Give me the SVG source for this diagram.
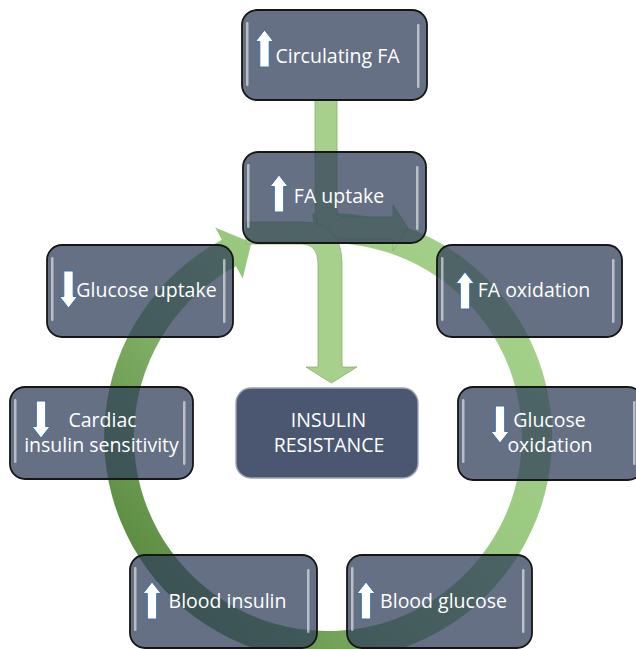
<svg xmlns="http://www.w3.org/2000/svg" xmlns:xlink="http://www.w3.org/1999/xlink" width="636" height="649" viewBox="0 0 636 649">
<style>
.box{fill:#32405b;fill-opacity:0.75;stroke:#161616;stroke-width:1.8}
.core{fill:#4b5771;stroke:#9aa3b5;stroke-width:1.4}
.hl{fill:#ffffff;fill-opacity:0.55}
.t{font-family:"Open Sans","Liberation Sans",Arial,sans-serif;font-size:19.5px;fill:#ffffff;text-anchor:middle}
.arr{fill:#ffffff;stroke:#3b6fa8;stroke-width:1}
.bent{fill:#a8d08d;stroke:#86b06f;stroke-width:0.8}
</style>
<defs>
<linearGradient id="ringGrad" gradientUnits="userSpaceOnUse" x1="520" y1="230" x2="120" y2="560">
<stop offset="0" stop-color="#a8d38e"/>
<stop offset="0.45" stop-color="#98c87e"/>
<stop offset="1" stop-color="#5a8a40"/>
</linearGradient>
<path id="up" d="M0,0 L9,11.5 L4.7,11.5 L4.7,37 L-4.7,37 L-4.7,11.5 L-9,11.5 Z"/>
</defs>

<g id="connectors">
<path id="ring" fill="url(#ringGrad)" d="M312.4,213.5 A224,224 0 1 1 221.8,239.8 L215.2,227.4 L251.4,242.5 L242.7,278.5 L236.0,266.2 A194,194 0 1 0 314.5,243.5 Z"/>
<path id="bent-fa" class="bent" d="M315,100 L315,207 Q315,239 345,239 L393,239 L393,251 L408,228 L393,205 L393,217 L345,217 Q337,217 337,209 L337,100 Z"/>
<path id="bent-ir" class="bent" d="M246,222 L302,222 Q342,222 342,264 L342,367 L357,367 L331.5,383 L306,367 L318,367 L318,264 Q318,244 302,244 L246,244 Z"/>
</g>

<g id="node-circulating-fa">
<rect class="box" x="242" y="10" width="185" height="90" rx="15"/>
<rect class="hl" x="246" y="22" width="2.5" height="64" rx="1.2"/>
<rect class="hl" x="417" y="24" width="2.5" height="64" rx="1.2"/>
<use xlink:href="#up" class="arr" x="264.5" y="30"/>
<text class="t" x="337.5" y="63">Circulating FA</text>
</g>

<g id="node-fa-uptake">
<rect class="box" x="243" y="152" width="183" height="91" rx="15"/>
<rect class="hl" x="247" y="164" width="2.5" height="64" rx="1.2"/>
<rect class="hl" x="416" y="166" width="2.5" height="64" rx="1.2"/>
<use xlink:href="#up" class="arr" x="279" y="175"/>
<text class="t" x="339" y="203">FA uptake</text>
</g>

<g id="node-glucose-uptake">
<rect class="box" x="47" y="245" width="186" height="92" rx="15"/>
<rect class="hl" x="51" y="257" width="2.5" height="64" rx="1.2"/>
<rect class="hl" x="223" y="259" width="2.5" height="64" rx="1.2"/>
<use xlink:href="#up" class="arr" transform="translate(68.5,308) scale(1,-1)"/>
<text class="t" x="146.5" y="297">Glucose uptake</text>
</g>

<g id="node-fa-oxidation">
<rect class="box" x="437" y="245" width="185" height="92" rx="15"/>
<rect class="hl" x="441" y="257" width="2.5" height="64" rx="1.2"/>
<rect class="hl" x="612" y="259" width="2.5" height="64" rx="1.2"/>
<use xlink:href="#up" class="arr" x="465" y="272"/>
<text class="t" x="534" y="297">FA oxidation</text>
</g>

<g id="node-cardiac-insulin-sensitivity">
<rect class="box" x="10" y="387" width="183" height="92" rx="15"/>
<rect class="hl" x="14" y="399" width="2.5" height="64" rx="1.2"/>
<rect class="hl" x="183" y="401" width="2.5" height="64" rx="1.2"/>
<use xlink:href="#up" class="arr" transform="translate(41,438) scale(1,-1)"/>
<text class="t" x="102.5" y="427">Cardiac</text>
<text class="t" x="101.5" y="452">insulin sensitivity</text>
</g>

<g id="node-insulin-resistance">
<rect class="core" x="236" y="388" width="182" height="90" rx="15"/>
<text class="t" x="328.5" y="427">INSULIN</text>
<text class="t" x="329" y="452">RESISTANCE</text>
</g>

<g id="node-glucose-oxidation">
<rect class="box" x="458" y="387" width="185" height="93" rx="15"/>
<rect class="hl" x="462" y="399" width="2.5" height="64" rx="1.2"/>
<rect class="hl" x="633" y="401" width="2.5" height="64" rx="1.2"/>
<use xlink:href="#up" class="arr" transform="translate(500,443) scale(1,-1)"/>
<text class="t" x="549.5" y="427">Glucose</text>
<text class="t" x="550" y="452">oxidation</text>
</g>

<g id="node-blood-insulin">
<rect class="box" x="130" y="555" width="187" height="93" rx="15"/>
<rect class="hl" x="134" y="567" width="2.5" height="64" rx="1.2"/>
<rect class="hl" x="307" y="569" width="2.5" height="64" rx="1.2"/>
<use xlink:href="#up" class="arr" x="152" y="582"/>
<text class="t" x="227.5" y="608">Blood insulin</text>
</g>

<g id="node-blood-glucose">
<rect class="box" x="347" y="555" width="185" height="93" rx="15"/>
<rect class="hl" x="351" y="567" width="2.5" height="64" rx="1.2"/>
<rect class="hl" x="522" y="569" width="2.5" height="64" rx="1.2"/>
<use xlink:href="#up" class="arr" x="366" y="582"/>
<text class="t" x="443.5" y="608">Blood glucose</text>
</g>
</svg>
